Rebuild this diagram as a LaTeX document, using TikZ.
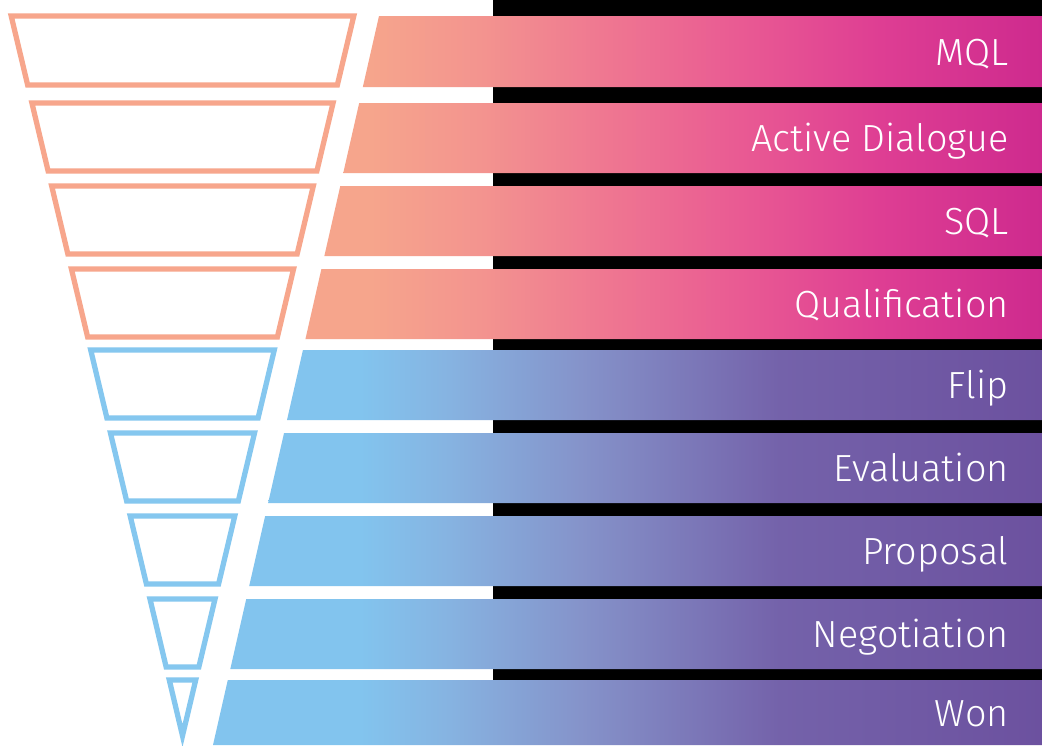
\documentclass[tikz,border=0pt]{standalone}
\usepackage{fontspec}
\usepackage{tikz}
\newfontfamily\stagefont{Fira Sans Light}
\definecolor{edgepink}{HTML}{F7A68C}
\definecolor{edgeblue}{HTML}{85C7EF}
\definecolor{pinkA}{HTML}{F6A58C}
\definecolor{pinkB}{HTML}{F3948F}
\definecolor{pinkC}{HTML}{EF7891}
\definecolor{pinkD}{HTML}{E95A93}
\definecolor{pinkE}{HTML}{DE3E93}
\definecolor{pinkF}{HTML}{CE2A8E}
\definecolor{blueA}{HTML}{82C4EE}
\definecolor{blueB}{HTML}{86B3E1}
\definecolor{blueC}{HTML}{8593CA}
\definecolor{blueD}{HTML}{7462AA}
\definecolor{blueE}{HTML}{6C519F}
\pgfdeclarehorizontalshading{ramppink}{100bp}{color(0bp)=(pinkA); color(35.1bp)=(pinkA);
    color(41.6bp)=(pinkB); color(48.8bp)=(pinkC); color(57.1bp)=(pinkD);
    color(65.4bp)=(pinkE); color(75bp)=(pinkF); color(100bp)=(pinkF)}
\pgfdeclarehorizontalshading{rampblue}{100bp}{color(0bp)=(blueA); color(34.5bp)=(blueA);
    color(39.8bp)=(blueB); color(47.6bp)=(blueC); color(59.4bp)=(blueD);
    color(75bp)=(blueE); color(100bp)=(blueE)}

\begin{document}
\begin{tikzpicture}[x=0.02cm, y=-0.02cm,
        funnel piece/.style={line width=3pt, fill=white},
        stage label/.style={anchor=base east, inner sep=0pt, text=white,
            font=\stagefont\fontsize{21.5}{25}\selectfont}
    ]
    \useasboundingbox (0,0) rectangle (1042,745);
    \fill[white] (0,0) rectangle (1042,745);
    \fill[black] (493,0) rectangle (1042,745);

    % stage bands, left edges on one slanted line
    \foreach \ya/\yb/\txt/\kind [count=\i] in {16/87/MQL/pink, 103/173/Active Dialogue/pink,
            186/256/SQL/pink, 269/339/Qualification/pink, 350/420/Flip/blue,
            433/503/Evaluation/blue, 516/586/Proposal/blue, 599/669/Negotiation/blue,
            680/745/Won/blue}
    {
        \pgfmathsetmacro\xa{379-0.2277*(\ya-16)}
        \pgfmathsetmacro\xb{379-0.2277*(\yb-16)}
        \pgfmathsetmacro\yt{(\ya+\yb)/2+13.5}
        \begin{scope}
            \clip (\xa,\ya) -- (1042,\ya) -- (1042,\yb) -- (\xb,\yb) -- cycle;
            \shade[shading=ramp\kind] (200,\ya) rectangle (1042,\yb);
        \end{scope}
        \node[stage label] (stage-\i) at (1009,\yt) {\txt};
    }

    % funnel slices
    \foreach \ya/\yb/\kind in {16/85/pink, 103/171/pink, 186/254/pink, 269/337/pink,
            350/418/blue, 433/501/blue, 516/584/blue, 599/667/blue}
    {
        \pgfmathsetmacro\wa{0.238*(747-\ya)-2.7}
        \pgfmathsetmacro\wb{0.238*(747-\yb)-2.7}
        \draw[funnel piece, draw=edge\kind] (182.5-\wa,\ya) -- (182.5+\wa,\ya)
            -- (182.5+\wb,\yb) -- (182.5-\wb,\yb) -- cycle;
    }
    \draw[funnel piece, draw=edgeblue] (169.3,680) -- (195.7,680) -- (182.5,735.7) -- cycle;
\end{tikzpicture}
\end{document}
